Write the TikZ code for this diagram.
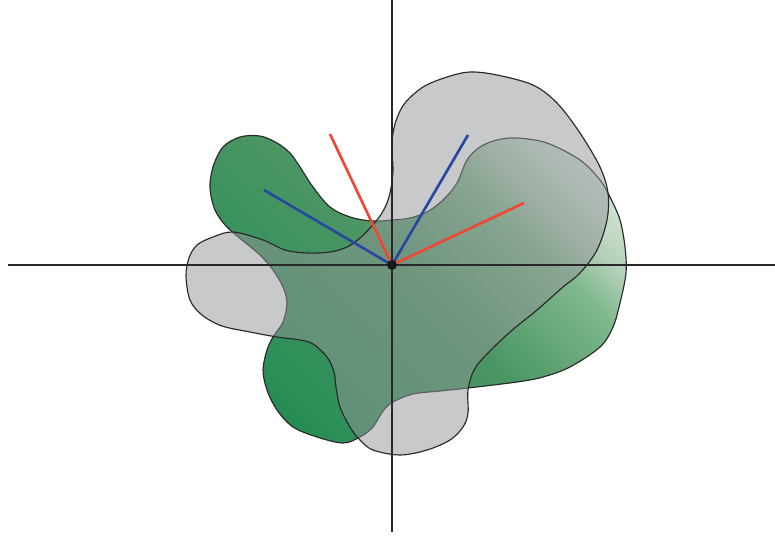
\documentclass[tikz,border=0pt]{standalone}
\usepackage{xcolor}
\definecolor{gA}{RGB}{28,130,70}
\definecolor{gB}{RGB}{43,143,88}
\definecolor{gC}{RGB}{76,150,100}
\definecolor{gD}{RGB}{126,184,140}
\definecolor{gE}{RGB}{180,208,184}
\definecolor{gF}{RGB}{218,234,220}
\definecolor{grayfill}{RGB}{146,148,152}
\definecolor{outline}{RGB}{40,40,40}
\definecolor{rayblue}{RGB}{40,72,160}
\definecolor{rayred}{RGB}{238,72,52}
\tikzset{
  outl/.style={draw=outline, line width=0.65pt, line join=round},
  axisline/.style={draw=outline, line width=0.6pt},
  bluray/.style={draw=rayblue, line width=1.5pt},
  redray/.style={draw=rayred, line width=1.5pt},
}
\def\greenpath{plot[smooth cycle, tension=0.55] coordinates {
(213,167) (223,147) (240,137) (260,136) (277,143) (290,153) (300,167) (313,187)
(330,207) (350,217) (372,221) (393,220) (410,218) (427,212) (443,200) (457,183)
(467,160) (480,147) (497,140) (517,138) (547,143) (580,160) (600,180) (610,197)
(620,220) (625,247) (626,273) (620,303) (613,327) (600,347) (570,367) (543,377)
(517,382) (468,388) (440,391) (413,394) (393,402) (383,411) (373,427) (360,437)
(343,443) (317,437) (293,427) (277,410) (267,390) (263,370) (267,350) (273,337)
(283,322) (287,303) (283,287) (273,270) (260,255) (242,240) (226,226) (215,210) (210,188)}}
\def\graypath{plot[smooth cycle, tension=0.55] coordinates {
(186,276) (189,258) (197,245) (213,237) (233,232) (263,240) (285,250) (307,253)
(330,252) (347,247) (360,238) (370,228) (380,216) (387,203) (391,188) (393,170)
(392,150) (393,133) (397,118) (405,103) (423,87) (447,77) (470,72) (497,75)
(533,85) (557,103) (580,133) (600,167) (608,193) (607,220) (597,250) (580,273)
(563,287) (537,310) (510,332) (487,354) (474,370) (468,390) (468,413) (463,427)
(450,440) (427,450) (400,455) (373,450) (360,440) (350,427) (340,407) (336,387)
(334,372) (327,357) (313,344) (300,340) (277,337) (250,332) (222,326) (202,315) (190,300)}}
\newcommand\gseg[4]{%
  \pgfmathtruncatemacro\gN{((#2)-(#1))/5}%
  \foreach \i in {0,...,\gN}{%
    \pgfmathsetmacro\s{#1+5*\i}%
    \pgfmathtruncatemacro\p{100*\i/\gN}%
    \fill[#4!\p!#3] ({0.5*(\s)+100},{-0.5*(\s)+100}) -- ({0.5*(\s)+520},{-0.5*(\s)+520})
      -- ({0.5*(\s)+3+520},{-0.5*(\s)-3+520}) -- ({0.5*(\s)+3+100},{-0.5*(\s)-3+100}) -- cycle;
  }}
\begin{document}
\begin{tikzpicture}[x=0.02cm, y=-0.02cm]
\useasboundingbox (0,0) rectangle (775,538);
% green shape with gradient
\begin{scope}
  \clip \greenpath;
  \gseg{-200}{-100}{gA}{gB}
  \gseg{-100}{130}{gB}{gC}
  \gseg{130}{285}{gC}{gD}
  \gseg{285}{345}{gD}{gE}
  \gseg{345}{430}{gE}{gF}
\end{scope}
\draw[outl] \greenpath;
% gray shape, translucent
\path[fill=grayfill, fill opacity=0.5] \graypath;
\draw[outl] \graypath;
% axes
\coordinate (O) at (392,265);
\coordinate (xl) at (8,265);
\coordinate (xr) at (775,265);
\coordinate (yt) at (392,0);
\coordinate (yb) at (392,532);
\draw[axisline] (xl) -- (xr);
\draw[axisline] (yt) -- (yb);
% rays
\coordinate (bL) at (264,190);
\coordinate (bR) at (468,135);
\coordinate (rL) at (330,134);
\coordinate (rR) at (524,203);
\draw[bluray] (O) -- (bL);
\draw[bluray] (O) -- (bR);
\draw[redray] (O) -- (rL);
\draw[redray] (O) -- (rR);
\fill[black!90] (O) circle (5);
\end{tikzpicture}
\end{document}
